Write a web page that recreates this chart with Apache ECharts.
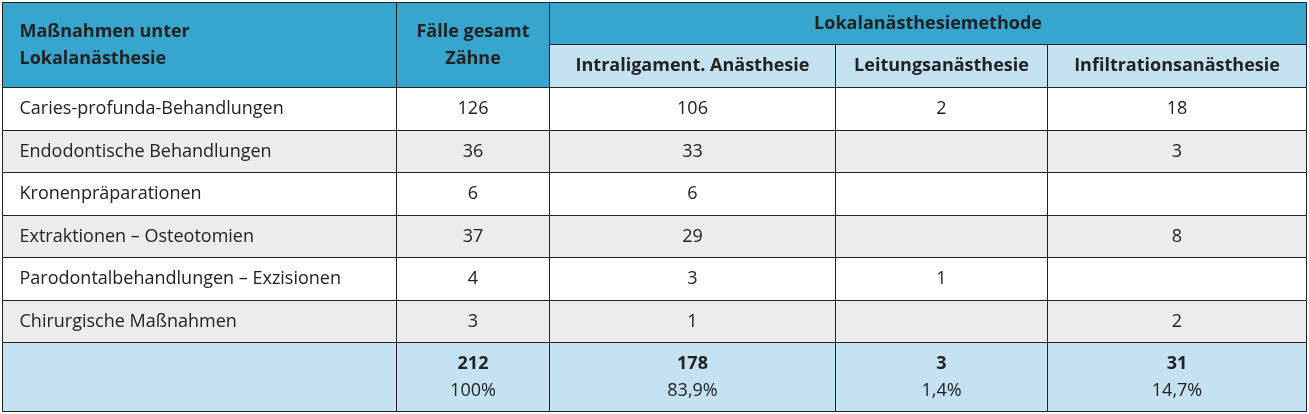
<!DOCTYPE html>
<html><head><meta charset="utf-8">
<script src="https://cdn.jsdelivr.net/npm/echarts@6/dist/echarts.min.js"></script>
<style>html,body{margin:0;padding:0;background:#fff}#chart{width:1309px;height:414px}</style>
</head><body><div id="chart"></div>
<script>
"use strict";

const categories = [
  "Caries-profunda-Behandlungen",
  "Endodontische Behandlungen",
  "Kronenpräparationen",
  "Extraktionen – Osteotomien",
  "Parodontalbehandlungen – Exzisionen",
  "Chirurgische Maßnahmen",
];
const totalTeeth = [126, 36, 6, 37, 4, 3];
const intraligament = [106, 33, 6, 29, 3, 1];
const leitung = [2, null, null, null, 1, null];
const infiltration = [18, 3, null, 8, null, 2];
const sums = [212, 178, 3, 31];
const shares = ["100%", "83,9%", "1,4%", "14,7%"];
const methodHeaders = ["Intraligament. Anästhesie", "Leitungsanästhesie", "Infiltrationsanästhesie"];

// table grid in page units
const colEdges = [2, 396, 549, 835, 1047, 1306];
const rowEdges = [2, 44, 87, 130, 172, 215, 257, 300, 342, 411];

const BLUE = "#36a6cf", LIGHT = "#c4e2f1", GREY = "#ececec", INK = "#222";

const cells = [];
const cell = (c0, c1, r0, r1, fill, lines, align, bold) =>
  cells.push({ value: [colEdges[c0], rowEdges[r0], colEdges[c1], rowEdges[r1]], fill, lines, align, bold });

// header
cell(0, 1, 0, 2, BLUE, ["Maßnahmen unter", "Lokalanästhesie"], "left", true);
cell(1, 2, 0, 2, BLUE, ["Fälle gesamt", "Zähne"], "center", true);
cell(2, 5, 0, 1, BLUE, ["Lokalanästhesiemethode"], "center", true);
methodHeaders.forEach((h, i) => cell(2 + i, 3 + i, 1, 2, LIGHT, [h], "center", true));

// body
categories.forEach((c, i) => {
  const fill = i % 2 ? GREY : "#fff";
  const vals = [totalTeeth[i], intraligament[i], leitung[i], infiltration[i]];
  cell(0, 1, 2 + i, 3 + i, fill, [c], "left", false);
  vals.forEach((v, j) => cell(1 + j, 2 + j, 2 + i, 3 + i, fill, v == null ? [] : [String(v)], "center", false));
});

// totals
cell(0, 1, 8, 9, LIGHT, [], "left", false);
sums.forEach((s, j) => cell(1 + j, 2 + j, 8, 9, LIGHT, [String(s), shares[j]], "center", "first"));

const chart = echarts.init(document.getElementById("chart"));
chart.setOption({
  animation: false,
  grid: { left: 0, right: 0, top: 0, bottom: 0 },
  xAxis: { type: "value", min: 0, max: 1309, show: false },
  yAxis: { type: "value", min: 0, max: 414, inverse: true, show: false },
  series: [{
    type: "custom",
    data: cells,
    renderItem: (params, api) => {
      const c = cells[params.dataIndex];
      const p0 = api.coord([api.value(0), api.value(1)]);
      const p1 = api.coord([api.value(2), api.value(3)]);
      const x = Math.round(p0[0]) + 0.5, y = Math.round(p0[1]) + 0.5;
      const w = Math.round(p1[0]) - Math.round(p0[0]), h = Math.round(p1[1]) - Math.round(p0[1]);
      const children = [{
        type: "rect", shape: { x, y, width: w, height: h },
        style: { fill: c.fill, stroke: INK, lineWidth: 1 },
      }];
      const n = c.lines.length;
      c.lines.forEach((t, k) => {
        const cy = y + h / 2 + (k - (n - 1) / 2) * 27;
        const bold = c.bold === true || (c.bold === "first" && k === 0);
        children.push({
          type: "text",
          style: {
            x: c.align === "left" ? x + 17 : x + w / 2, y: cy,
            text: t, fill: INK, align: c.align, verticalAlign: "middle",
            font: (bold ? "bold " : "") + "18px 'Open Sans', 'Noto Sans', sans-serif",
          },
        });
      });
      return { type: "group", children };
    },
  }],
});
</script></body></html>
